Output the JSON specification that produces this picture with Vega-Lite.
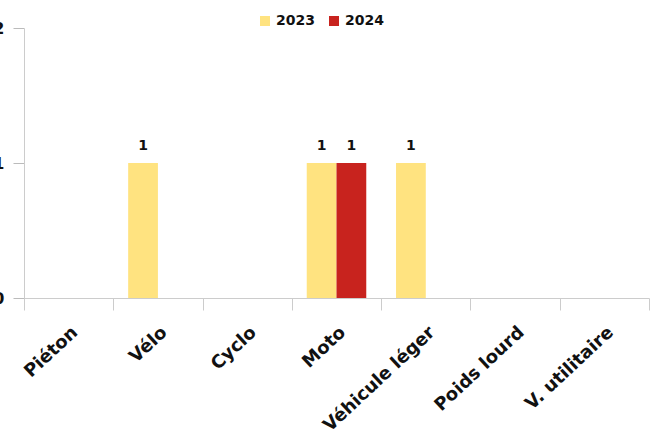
{
  "$schema": "https://vega.github.io/schema/vega-lite/v6.json",
  "width": 625,
  "height": 270,
  "autosize": {"type": "none"},
  "padding": {"left": 24, "top": 28, "right": 10, "bottom": 134},
  "config": {"font": "DejaVu Sans", "view": {"stroke": null}},
  "data": {
    "values": [
      {"categorie": "Vélo", "annee": "2023", "valeur": 1},
      {"categorie": "Moto", "annee": "2023", "valeur": 1},
      {"categorie": "Moto", "annee": "2024", "valeur": 1},
      {"categorie": "Véhicule léger", "annee": "2023", "valeur": 1}
    ]
  },
  "encoding": {
    "x": {
      "field": "categorie",
      "type": "nominal",
      "sort": null,
      "scale": {
        "domain": ["Piéton", "Vélo", "Cyclo", "Moto", "Véhicule léger", "Poids lourd", "V. utilitaire"],
        "paddingInner": 0,
        "paddingOuter": 0
      },
      "axis": {
        "title": null,
        "labelAngle": -43,
        "labelFontSize": 18,
        "labelFontWeight": "bold",
        "labelColor": "#111111",
        "domainColor": "#cccccc",
        "tickColor": "#cccccc",
        "tickBand": "extent",
        "tickSize": 12,
        "labelPadding": 13
      }
    },
    "xOffset": {"field": "annee", "type": "nominal", "scale": {"paddingInner": 0, "paddingOuter": 0.5}},
    "y": {
      "field": "valeur",
      "type": "quantitative",
      "scale": {"domain": [0, 2], "nice": false},
      "axis": {
        "title": null,
        "tickCount": 2,
        "tickMinStep": 1,
        "grid": false,
        "labelFontSize": 16,
        "labelFontWeight": "bold",
        "labelColor": "#111111",
        "labelOverlap": false,
        "domainColor": "#cccccc",
        "tickColor": "#bbbbbb",
        "ticks": true,
        "tickSize": 11,
        "labelPadding": 9
      }
    }
  },
  "layer": [
    {
      "mark": {"type": "bar"},
      "encoding": {
        "color": {
          "field": "annee",
          "type": "nominal",
          "scale": {"domain": ["2023", "2024"], "range": ["#FFE380", "#C8231E"]},
          "legend": {
            "title": null,
            "orient": "none",
            "direction": "horizontal",
            "legendX": 234,
            "legendY": -14,
            "symbolType": "square",
            "symbolSize": 100,
            "symbolStrokeWidth": 0,
            "labelFontSize": 14,
            "labelFontWeight": "bold",
            "labelColor": "#111111",
            "columnPadding": 12
          }
        }
      }
    },
    {
      "mark": {"type": "text", "dy": -17, "fontSize": 14, "fontWeight": "bold", "color": "#111111"},
      "encoding": {"text": {"field": "valeur", "type": "quantitative"}}
    }
  ]
}
